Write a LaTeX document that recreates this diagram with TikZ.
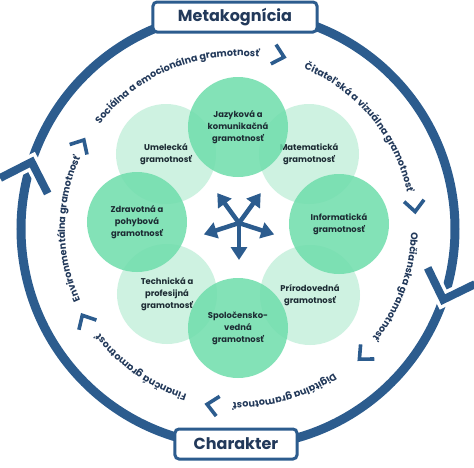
\documentclass[tikz,border=0pt]{standalone}
\usepackage{fontspec}
\setmainfont{Poppins}
\usepackage{xcolor}
\usepackage{tikz}
\usetikzlibrary{positioning,arrows.meta,decorations.text}

\definecolor{ringblue}{HTML}{2C5C8E}
\definecolor{navy}{HTML}{22395A}
\definecolor{greendark}{HTML}{6EDDAB}
\definecolor{greenlight}{HTML}{C2EFDA}
\definecolor{inktext}{HTML}{1C2B33}
\newcommand\ringfont{\fontsize{9.6}{11}\selectfont\bfseries}

\begin{document}
\begin{tikzpicture}[x=1pt,y=1pt,
    ring/.style={draw=ringblue,line width=9pt},
    bigchev/.style={draw=ringblue,line width=8pt,miter limit=10},
    chevgap/.style={draw=white,line width=15pt,miter limit=10},
    smallchev/.style={draw=ringblue,line width=3.6pt},
    titlebox/.style={draw=ringblue,line width=3pt,fill=white,rounded corners=4pt,text=navy,
        font=\fontsize{16}{18}\selectfont\bfseries,minimum height=30pt},
    lit/.style={circle,minimum size=100pt,inner sep=0pt,align=center,
        font=\fontsize{8.4}{12}\selectfont\bfseries,text=inktext,text opacity=1},
    litdark/.style={lit,fill=greendark,fill opacity=0.85},
    litlight/.style={lit,fill=greenlight,fill opacity=0.8},
    spoke/.style={draw=ringblue,line width=4.5pt,-{Triangle[length=13pt,width=16pt]}},
    ringtext/.style={decorate,decoration={text along path,text align=center,
        text color=navy,text={|\ringfont|#1}}}]

    \path[fill=white] (-238,-238) rectangle (236,229);
    \useasboundingbox (-238,-238) rectangle (236,229);

    \draw[ring] (0,0) circle[radius=217];
    \foreach \a in {162,-19} {
        \draw[chevgap,shift={(\a:217)},rotate=\a-90] (-25,25) -- (0,0) -- (-25,-25);
        \draw[bigchev,shift={(\a:217)},rotate=\a-90] (-25,25) -- (0,0) -- (-25,-25);
    }

    \node[titlebox,minimum width=164pt] (meta) at (-3,212) {Metakognícia};
    \node[titlebox,minimum width=122pt] (charakter) at (-2,-215) {Charakter};

    \path[ringtext={Sociálna a emocionálna gramotnosť}] (158:173) arc[start angle=158,end angle=68,radius=173];
    \path[ringtext={Čitateľská a vizuálna gramotnosť}] (85:173) arc[start angle=85,end angle=-5,radius=173];
    \path[ringtext={Občianska gramotnosť}] (25:173) arc[start angle=25,end angle=-65,radius=173];
    \path[ringtext={Digitálna gramotnosť}] (-29:173) arc[start angle=-29,end angle=-119,radius=173];
    \path[ringtext={Finančná gramotnosť}] (-80:173) arc[start angle=-80,end angle=-170,radius=173];
    \path[ringtext={Environmentálna gramotnosť}] (225:173) arc[start angle=225,end angle=135,radius=173];

    \foreach \a in {150,75,5.6,-47,-100,-151}
        \draw[smallchev,shift={(\a:178)},rotate=\a-90] (-11,10) -- (0,0) -- (-11,-10);

    \node[litlight] (umelecka) at (-72,75) {Umelecká\\gramotnosť};
    \node[litlight] (matematicka) at (71,75) {Matematická\\gramotnosť};
    \node[litlight] (technicka) at (-71,-65) {Technická a\\profesijná\\gramotnosť};
    \node[litlight] (prirodovedna) at (72,-66) {Prírodovedná\\gramotnosť};
    \node[litdark] (jazykova) at (0,102) {Jazyková a\\komunikačná\\gramotnosť};
    \node[litdark] (informaticka) at (101,5) {Informatická\\gramotnosť};
    \node[litdark] (spolocenska) at (0,-99) {Spoločensko-\\vedná\\gramotnosť};
    \node[litdark] (zdravotna) at (-101,7) {Zdravotná a\\pohybová\\gramotnosť};

    \coordinate (hub) at (1,6);
    \foreach \a [count=\i] in {-90,-18,54,126,198} {
        \path (hub) ++(\a:37) coordinate (tip\i);
        \draw[spoke] (hub) -- (tip\i);
    }
\end{tikzpicture}
\end{document}
